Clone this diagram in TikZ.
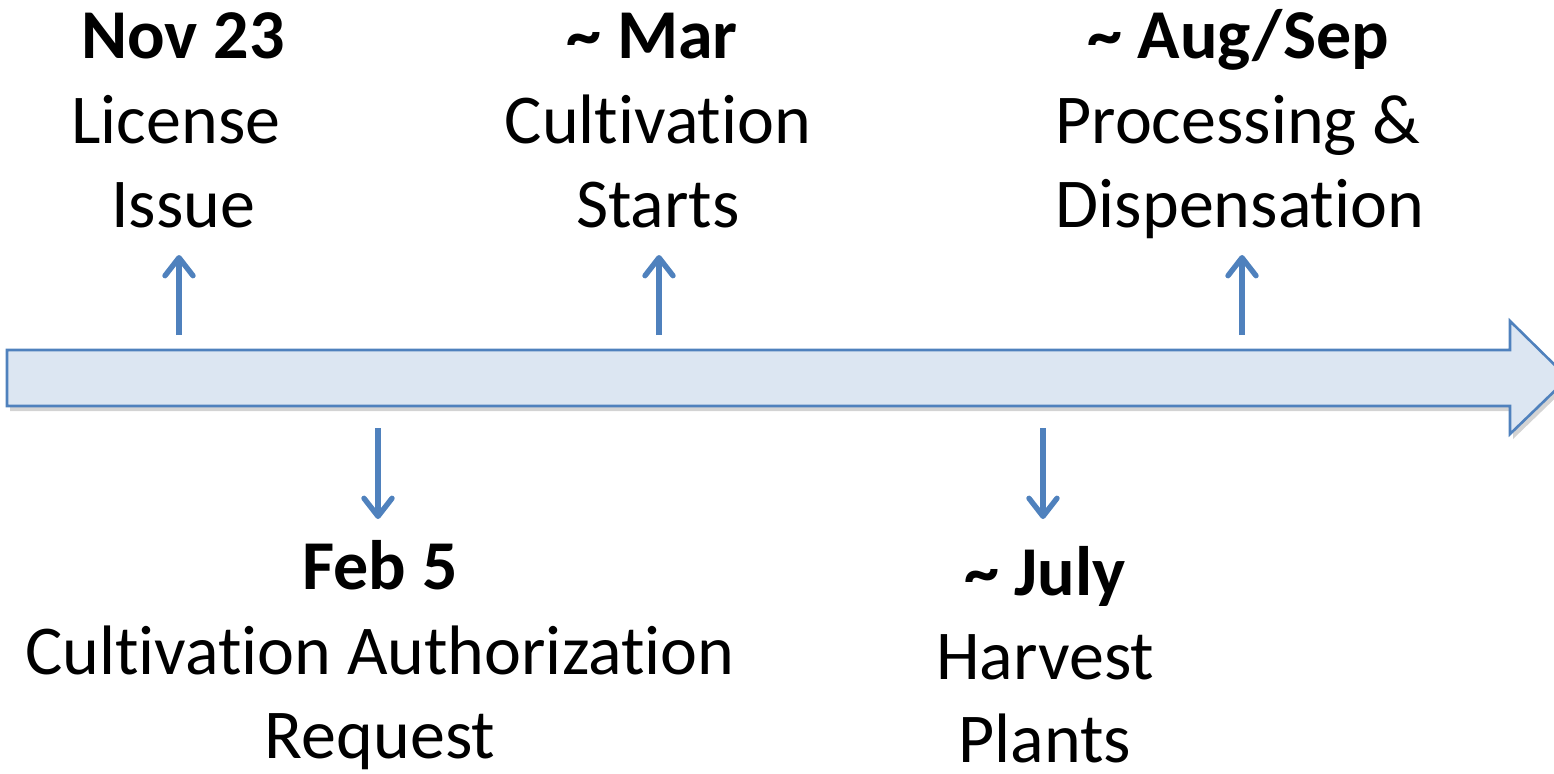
\documentclass[tikz,border=0pt]{standalone}
\usepackage{fontspec}
\setmainfont[Ligatures=NoCommon]{Carlito}
\usetikzlibrary{arrows.meta,shadows}
\definecolor{tlblue}{HTML}{4F81BD}
\definecolor{tlfill}{HTML}{DCE6F2}
\tikzset{
  lbl/.style={inner sep=0pt, anchor=base, font=\fontsize{35}{42}\selectfont},
  datelbl/.style={lbl, font=\fontsize{35}{42}\selectfont\bfseries},
  tick/.style={draw=tlblue, line width=2.7pt, -{Straight Barb[length=9pt,width=14pt,round]}},
  bigarrow/.style={draw=tlblue, line width=1.3pt, fill=tlfill, line join=miter,
    drop shadow={opacity=0.35, shadow xshift=1.5pt, shadow yshift=-2.5pt}}
}
\begin{document}
\begin{tikzpicture}[x=0.5pt,y=-0.5pt]
\useasboundingbox (0,0) rectangle (1554,773);
% timeline arrow
\path[bigarrow] (7,350) -- (1510,350) -- (1510,321) -- (1568,378) -- (1510,434) -- (1510,406) -- (7,406) -- cycle;
% top labels
\node[datelbl] (nov) at (183,58) {Nov 23};
\node[lbl] (lic1) at (176,143) {License};
\node[lbl] (lic2) at (183,227) {Issue};
\node[datelbl] (mar) at (652,58) {\textasciitilde\ Mar};
\node[lbl] (cult1) at (658,143) {Cultivation};
\node[lbl] (cult2) at (658,227) {Starts};
\node[datelbl] (aug) at (1238,58) {\textasciitilde\ Aug/Sep};
\node[lbl] (proc1) at (1238,143) {Processing \&};
\node[lbl] (proc2) at (1240,227) {Dispensation};
% bottom labels
\node[datelbl] (feb) at (380,589) {Feb 5};
\node[lbl] (auth1) at (380,674) {Cultivation Authorization};
\node[lbl] (auth2) at (380,758) {Request};
\node[datelbl] (jul) at (1045,595) {\textasciitilde\ July};
\node[lbl] (harv1) at (1045,679) {Harvest};
\node[lbl] (harv2) at (1045,762) {Plants};
% tick arrows
\coordinate (t1a) at (179,335); \coordinate (t1b) at (179,255);
\coordinate (t2a) at (659,335); \coordinate (t2b) at (659,255);
\coordinate (t3a) at (1242,335); \coordinate (t3b) at (1242,255);
\coordinate (b1a) at (378,428); \coordinate (b1b) at (378,519);
\coordinate (b2a) at (1043,428); \coordinate (b2b) at (1043,519);
\draw[tick] (t1a) -- (t1b);
\draw[tick] (t2a) -- (t2b);
\draw[tick] (t3a) -- (t3b);
\draw[tick] (b1a) -- (b1b);
\draw[tick] (b2a) -- (b2b);
\end{tikzpicture}
\end{document}
